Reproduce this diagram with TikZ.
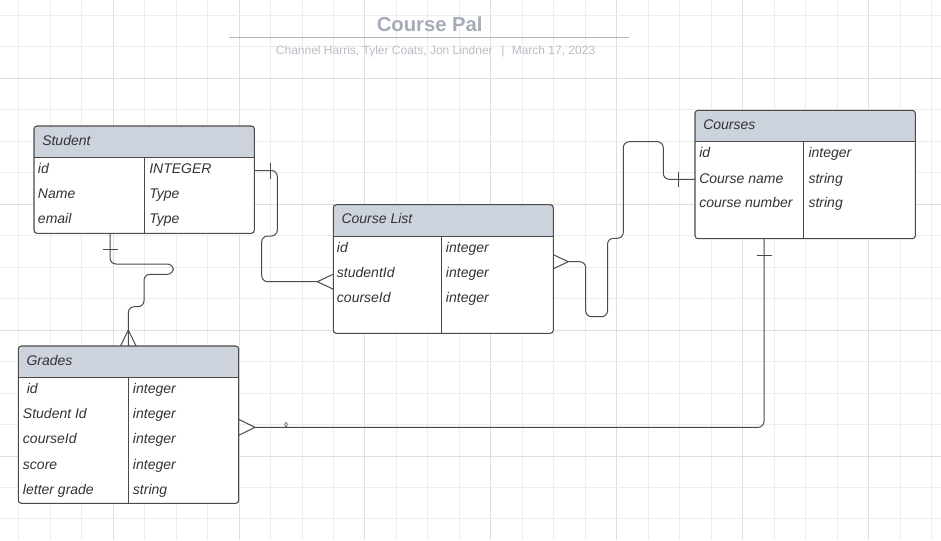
\documentclass[tikz,border=0pt]{standalone}
\usepackage{fontspec}
\setmainfont{Liberation Sans}
\usetikzlibrary{calc}
\definecolor{gridc}{HTML}{EDEDED}
\definecolor{gridd}{HTML}{DEDEDE}
\definecolor{hdrc}{HTML}{CDD3DC}
\definecolor{linec}{HTML}{4A4A4A}
\definecolor{txtc}{HTML}{333333}
\definecolor{titc}{HTML}{A5ABB7}
\definecolor{rulec}{HTML}{B0B5BF}
\definecolor{subc}{HTML}{B9BDC5}
\newcommand{\erTable}[7]{%
  \node[inner sep=0pt, outer sep=0pt, minimum width=#4*0.75pt, minimum height=#5*0.75pt,
        anchor=north west, fill=white, rounded corners=2.25pt] (#1) at (#2,#3) {};
  \begin{scope}
    \clip[rounded corners=2.25pt] (#1.north west) rectangle (#1.south east);
    \fill[hdrc] (#1.north west) rectangle ($(#1.north east)+(0,31.5)$);
  \end{scope}
  \draw[tblline] ($(#1.north west)+(0,31.5)$) -- ($(#1.north east)+(0,31.5)$);
  \draw[tblline] ($(#1.north west -| #6,0)+(0,31.5)$) -- (#1.south west -| #6,0);
  \draw[tblline, rounded corners=2.25pt] (#1.north west) rectangle (#1.south east);
  \node[lbl] (#1-title) at ($(#1.north west)+(8,19)$) {#7};
}
\begin{document}
\begin{tikzpicture}[x=0.75pt,y=-0.75pt,
  lbl/.style={inner sep=0pt, anchor=base west, font=\fontsize{10.5pt}{12pt}\selectfont\itshape, text=txtc},
  tblline/.style={draw=linec, line width=0.8pt},
  conn/.style={draw=linec, line width=0.75pt, rounded corners=4.5pt},
  foot/.style={draw=linec, line width=0.75pt},
  tickmk/.style={draw=linec, line width=0.75pt},
]
\useasboundingbox (0,0) rectangle (941,540);
\fill[white] (0,0) rectangle (941,540);
% grid
\foreach \i in {0,...,29}{
  \pgfmathtruncatemacro{\m}{mod(\i,4)}
  \ifnum\m=3 \def\gc{gridd}\else\def\gc{gridc}\fi
  \draw[\gc, line width=0.75pt] ({18.7+31.48*\i},0) -- ({18.7+31.48*\i},540);
}
\foreach \j in {0,...,16}{
  \pgfmathtruncatemacro{\m}{mod(\j,4)}
  \ifnum\m=2 \def\gc{gridd}\else\def\gc{gridc}\fi
  \draw[\gc, line width=0.75pt] (0,{15.3+31.48*\j}) -- (941,{15.3+31.48*\j});
}
% title
\node[inner sep=0pt, anchor=base, text=titc, font=\fontsize{15.2pt}{18pt}\selectfont\bfseries] (title) at (429.7,31) {Course Pal};
\draw[rulec, line width=1.1pt] (229,37.7) -- (629,37.7);
\node[inner sep=0pt, anchor=base west, text=subc, font=\fontsize{9pt}{11pt}\selectfont] (subtitle) at (275.7,54.3)
  {Channel Harris, Tyler Coats, Jon Lindner\hspace{6.5pt}|\hspace{5.5pt}March 17, 2023};

% tables
\erTable{student}{34}{126}{220.3}{107.3}{144.3}{Student}
\node[lbl] (s1a) at (37.7,173.5) {id};
\node[lbl] (s1b) at (149,173.5) {INTEGER};
\node[lbl] (s2a) at (37.7,198.5) {Name};
\node[lbl] (s2b) at (149,198.5) {Type};
\node[lbl] (s3a) at (37.7,223.3) {email};
\node[lbl] (s3b) at (149,223.3) {Type};

\erTable{courselist}{333.3}{204.7}{220}{128.6}{441.3}{Course List}
\node[lbl] (l1a) at (336.7,252) {id};
\node[lbl] (l1b) at (445.7,252) {integer};
\node[lbl] (l2a) at (336.7,277.2) {studentId};
\node[lbl] (l2b) at (445.7,277.2) {integer};
\node[lbl] (l3a) at (336.7,302.5) {courseId};
\node[lbl] (l3b) at (445.7,302.5) {integer};

\erTable{courses}{695}{110.3}{220.3}{128.4}{803.3}{Courses}
\node[lbl] (c1a) at (699,157.6) {id};
\node[lbl] (c1b) at (808.3,157.6) {integer};
\node[lbl] (c2a) at (699,183.2) {Course name};
\node[lbl] (c2b) at (808.3,183.2) {string};
\node[lbl] (c3a) at (699,207.7) {course number};
\node[lbl] (c3b) at (808.3,207.7) {string};

\erTable{grades}{18.3}{346}{220.4}{157.3}{128.3}{Grades}
\node[lbl] (g1a) at (22.7,393.8) {\ id};
\node[lbl] (g1b) at (132.7,393.8) {integer};
\node[lbl] (g2a) at (22.7,418.7) {Student Id};
\node[lbl] (g2b) at (132.7,418.7) {integer};
\node[lbl] (g3a) at (22.7,443.5) {courseId};
\node[lbl] (g3b) at (132.7,443.5) {integer};
\node[lbl] (g4a) at (22.7,469) {score};
\node[lbl] (g4b) at (132.7,469) {integer};
\node[lbl] (g5a) at (22.7,494) {letter grade};
\node[lbl] (g5b) at (132.7,494) {string};

% connector points
\coordinate (a1) at (student.east |- 0,170.5);
\coordinate (a2) at ($(courselist.west |- 0,281.7)+(-16,0)$);
\coordinate (b1) at (student.south -| 110,0);
\coordinate (b2) at ($(grades.north -| 128.3,0)+(0,-16)$);
\coordinate (d1) at ($(courselist.east |- 0,261.7)+(15,0)$);
\coordinate (d2) at (courses.west |- 0,179.3);
\coordinate (e1) at (courses.south -| 764,0);
\coordinate (e2) at ($(grades.east |- 0,427.3)+(16.3,0)$);

% Student -> Course List
\draw[conn] (a1) -- (277.3,170.5) -- (277.3,236) -- (261.7,236) -- (261.7,281.7) -- (a2);
\draw[tickmk] (270.5,162.5) -- (270.5,178.5);
\draw[foot] (courselist.west |- 0,274.2) -- (a2) -- (courselist.west |- 0,289.2);

% Student -> Grades
\draw[conn] (b1) -- (110,264) -- (173.3,264) -- (173.3,274.3) -- (144,274.3) -- (144,306.7) -- (128.3,306.7) -- (grades.north -| 128.3,0);
\draw[tickmk] (102.5,249.3) -- (117.5,249.3);
\draw[foot] (grades.north -| 120.5,0) -- (b2) -- (grades.north -| 136.1,0);

% Course List -> Courses
\draw[conn] (d1) -- (585.7,261.7) -- (585.7,316.7) -- (607.5,316.7) -- (607.5,238.3) -- (623.3,238.3)
  -- (623.3,141.7) -- (663.3,141.7) -- (663.3,179.3) -- (d2);
\draw[tickmk] (678.3,171.5) -- (678.3,187);
\draw[foot] (courselist.east |- 0,254.7) -- (d1) -- (courselist.east |- 0,268.7);

% Courses -> Grades
\draw[conn] (e1) -- (764,427.3) -- (e2);
\draw[tickmk] (756.5,255) -- (771.5,255);
\draw[foot] (grades.east |- 0,419.3) -- (e2) -- (grades.east |- 0,435.3);
\draw[linec, line width=0.5pt] (286,424.6) ellipse [x radius=0.9pt, y radius=1.5pt];
\end{tikzpicture}
\end{document}
